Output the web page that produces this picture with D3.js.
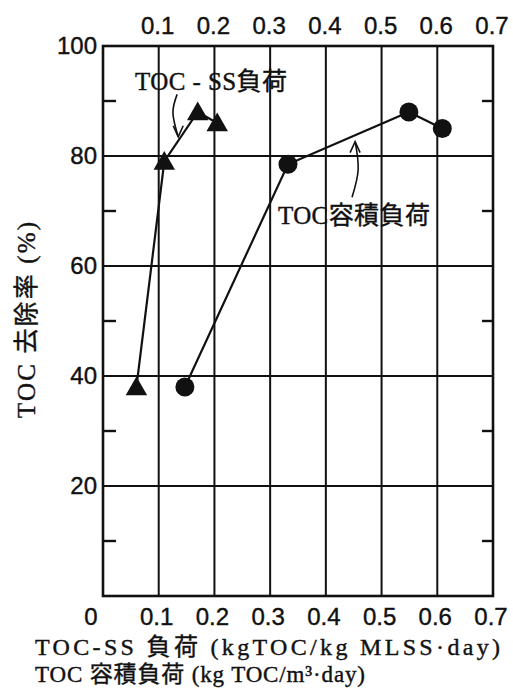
<!DOCTYPE html>
<html>
<head>
<meta charset="utf-8">
<script src="https://d3js.org/d3.v7.min.js"></script>
<style>
  body { margin: 0; background: #fff; }
  svg { display: block; }
  .tick-label { font-family: "Liberation Sans", "DejaVu Sans", sans-serif; font-size: 24px; fill: #111; stroke: #111; stroke-width: 0.4; }
  .serif { font-family: "Liberation Serif", "Noto Sans CJK JP", serif; fill: #111; stroke: #111; stroke-width: 0.4; }
</style>
</head>
<body>
<div id="chart"></div>
<script>
// Datos
const ssLoad = [0.06, 0.11, 0.17, 0.205];       // TOC-SS 負荷
const ssRemoval = [38, 79, 88, 86];
const volLoad = [0.147, 0.332, 0.549, 0.609];   // TOC 容積負荷
const volRemoval = [38, 78.5, 88, 85];

const xTicks = [0, 0.1, 0.2, 0.3, 0.4, 0.5, 0.6, 0.7];
const xTopTicks = [0.1, 0.2, 0.3, 0.4, 0.5, 0.6, 0.7];
const yTicks = [20, 40, 60, 80, 100];
const yMinor = [10, 30, 50, 70, 90];
const xGrid = [0.1, 0.2, 0.3, 0.4, 0.5, 0.6];
const yGrid = [20, 40, 60, 80];

const W = 513, H = 698;
const margin = { top: 46, right: 20, bottom: 102, left: 103 };

const svg = d3.select("#chart").append("svg")
  .attr("width", W).attr("height", H);

const x = d3.scaleLinear().domain([0, 0.7]).range([margin.left, W - margin.right]);
const y = d3.scaleLinear().domain([0, 100]).range([H - margin.bottom, margin.top]);

// cuadricula
svg.append("g").selectAll("line").data(xGrid).join("line")
  .attr("x1", d => x(d)).attr("x2", d => x(d))
  .attr("y1", y(0)).attr("y2", y(100))
  .attr("stroke", "#111").attr("stroke-width", 2);
svg.append("g").selectAll("line").data(yGrid).join("line")
  .attr("x1", x(0)).attr("x2", x(0.7))
  .attr("y1", d => y(d)).attr("y2", d => y(d))
  .attr("stroke", "#111").attr("stroke-width", 2);

// marco
svg.append("rect")
  .attr("x", x(0)).attr("y", y(100))
  .attr("width", x(0.7) - x(0)).attr("height", y(0) - y(100))
  .attr("fill", "none").attr("stroke", "#111").attr("stroke-width", 2.6);

// ticks menores (hacia adentro)
svg.append("g").selectAll("line").data(yMinor).join("line")
  .attr("x1", x(0)).attr("x2", x(0) + 13)
  .attr("y1", d => y(d)).attr("y2", d => y(d))
  .attr("stroke", "#111").attr("stroke-width", 2.4);
svg.append("g").selectAll("line").data(yMinor).join("line")
  .attr("x1", x(0.7)).attr("x2", x(0.7) - 11)
  .attr("y1", d => y(d)).attr("y2", d => y(d))
  .attr("stroke", "#111").attr("stroke-width", 2.4);

// etiquetas de los ejes
svg.append("g").selectAll("text").data(yTicks).join("text")
  .attr("class", "tick-label")
  .attr("x", x(0) - 6).attr("y", d => y(d) + 8)
  .attr("text-anchor", "end")
  .text(d => d);

svg.append("g").selectAll("text").data(xTicks).join("text")
  .attr("class", "tick-label")
  .attr("x", d => x(d) + (d === 0 ? -12 : -2)).attr("y", y(0) + 29)
  .attr("text-anchor", "middle")
  .text(d => d === 0 ? "0" : d3.format(".1f")(d));

svg.append("g").selectAll("text").data(xTopTicks).join("text")
  .attr("class", "tick-label")
  .attr("x", d => x(d) - 1).attr("y", y(100) - 12)
  .attr("text-anchor", "middle")
  .text(d => d3.format(".1f")(d));

// lineas
const line = d3.line().x(d => x(d[0])).y(d => y(d[1]));
const ssPts = d3.zip(ssLoad, ssRemoval);
const volPts = d3.zip(volLoad, volRemoval);

svg.append("path").datum(ssPts).attr("d", line)
  .attr("fill", "none").attr("stroke", "#111").attr("stroke-width", 2.2);
svg.append("path").datum(volPts).attr("d", line)
  .attr("fill", "none").attr("stroke", "#111").attr("stroke-width", 2.2);

// marcadores
const tri = d3.symbol().type(d3.symbolTriangle).size(200);
svg.append("g").selectAll("path").data(ssPts).join("path")
  .attr("d", tri)
  .attr("transform", d => `translate(${x(d[0])},${y(d[1]) + 2})`)
  .attr("fill", "#111");

svg.append("g").selectAll("circle").data(volPts).join("circle")
  .attr("cx", d => x(d[0])).attr("cy", d => y(d[1]))
  .attr("r", 9.5).attr("fill", "#111");

// anotaciones
svg.append("text").attr("class", "serif")
  .attr("x", x(0.0575)).attr("y", y(92))
  .attr("font-size", 25)
  .attr("textLength", 152).attr("lengthAdjust", "spacing")
  .text("TOC - SS負荷");

svg.append("text").attr("class", "serif")
  .attr("x", x(0.314)).attr("y", y(67.6))
  .attr("font-size", 25)
  .attr("textLength", 152).attr("lengthAdjust", "spacing")
  .text("TOC容積負荷");

const curve = d3.line().curve(d3.curveNatural).x(d => x(d[0])).y(d => y(d[1]));
const arrow1 = [[0.133, 91.2], [0.1255, 87.8], [0.135, 83.5]];
const arrow2 = [[0.447, 72.5], [0.458, 77.5], [0.4525, 82.6]];

[arrow1, arrow2].forEach(a => {
  svg.append("path").datum(a).attr("d", curve)
    .attr("fill", "none").attr("stroke", "#111").attr("stroke-width", 1.6);
});
// puntas de flecha
function head(tip, dir) {
  const px = x(tip[0]), py = y(tip[1]);
  svg.append("path")
    .attr("d", `M${px - 5},${py - dir * 11} L${px},${py} L${px + 5},${py - dir * 11}`)
    .attr("fill", "none").attr("stroke", "#111").attr("stroke-width", 1.6);
}
head(arrow1[2], 1);
head(arrow2[2], -1);

// titulos de los ejes
svg.append("text").attr("class", "serif")
  .attr("transform", `translate(35,${(222 + 418) / 2}) rotate(-90)`)
  .attr("text-anchor", "middle")
  .attr("font-size", 25)
  .attr("textLength", 196).attr("lengthAdjust", "spacing")
  .text("TOC 去除率 (%)");

svg.append("text").attr("class", "serif")
  .attr("x", 35).attr("y", 655)
  .attr("font-size", 24)
  .attr("textLength", 465).attr("lengthAdjust", "spacing")
  .text("TOC-SS 負荷 (kgTOC/kg MLSS·day)");

svg.append("text").attr("class", "serif")
  .attr("x", 35).attr("y", 682)
  .attr("font-size", 23)
  .attr("textLength", 330).attr("lengthAdjust", "spacing")
  .text("TOC 容積負荷 (kg TOC/m³·day)");
</script>
</body>
</html>
